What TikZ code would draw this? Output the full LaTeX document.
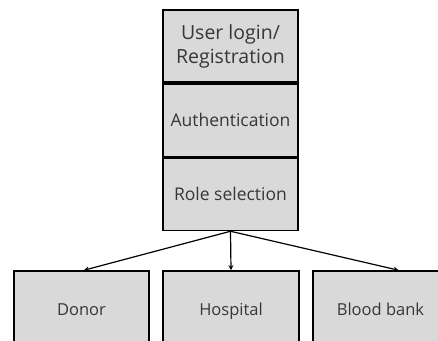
\documentclass[tikz,border=0pt]{standalone}
\usepackage{fontspec}
\setmainfont{Open Sans}
\usetikzlibrary{positioning,arrows.meta}
\definecolor{boxgray}{RGB}{217,217,217}
\definecolor{txtgray}{RGB}{55,55,55}
\tikzset{
  stagebox/.style={draw=black, line width=1.6pt, fill=boxgray, text=txtgray,
    minimum width=135pt, minimum height=72.5pt, align=center, inner sep=0pt,
    font=\fontsize{17.5}{21}\selectfont},
  rolebox/.style={stagebox, minimum height=80pt, text height=12pt, text depth=4pt,
    font=\fontsize{16.5}{20}\selectfont},
  link/.style={-{Stealth[length=5pt,width=5pt]}, line width=1.2pt}
}
\begin{document}
\begin{tikzpicture}[x=1pt,y=-1pt]
\useasboundingbox (0,0) rectangle (438,340);
\clip (0,0) rectangle (438,340);

% login stack
\node[stagebox, font=\fontsize{19.5}{24}\selectfont] (login) at (230.5,46) {User login/\\Registration};
\node[stagebox, below=0pt of login] (auth) {Authentication};
\node[stagebox, below=0pt of auth] (role) {Role selection};

% roles
\node[rolebox] (donor) at (81.5,311) {Donor};
\node[rolebox, minimum width=136pt] (hospital) at (231,311) {Hospital};
\node[rolebox] (bank) at (380.5,311) {Blood bank};
\coordinate (banktip) at ([xshift=18pt]bank.north);

\draw[link] (role.south) -- ([xshift=2.5pt]donor.north);
\draw[link] (role.south) -- (hospital.north);
\draw[link] (role.south) -- (banktip);
\end{tikzpicture}
\end{document}
